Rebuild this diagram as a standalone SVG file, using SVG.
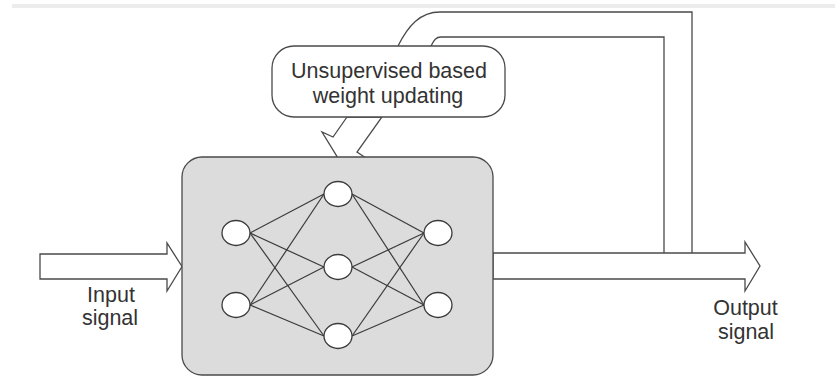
<svg xmlns="http://www.w3.org/2000/svg" width="835" height="377" viewBox="0 0 835 377">
  <style>
    .ln { fill: none; stroke: #4a4a4a; stroke-width: 1.3; }
    .shape { fill: #ffffff; stroke: #4a4a4a; stroke-width: 1.3; stroke-linejoin: miter; }
    .neuron { fill: #ffffff; stroke: #3a3a3a; stroke-width: 1.3; }
    .edge { stroke: #3a3a3a; stroke-width: 1.2; }
    .txt { font-family: "Liberation Sans", Arial, sans-serif; font-size: 21.5px; fill: #333333; text-anchor: middle; }
  </style>
  <rect x="12" y="4" width="823" height="4" fill="#ececec"/>

  <g id="feedback">
    <path class="ln" d="M692 253 V12 H440 C420 12 408 26 398 46"/>
    <path class="ln" d="M664 253 V37 H441 C436 37 434 40 431 46"/>
  </g>

  <g id="update-arrow">
    <polygon class="shape" points="347,117 333,137 322,132 338,158 366,158 357,152 382,117"/>
  </g>

  <g id="callout">
    <rect x="272" y="46" width="233" height="71" rx="22" ry="22" class="shape"/>
    <text class="txt" x="389" y="78">Unsupervised based</text>
    <text class="txt" x="388" y="103">weight updating</text>
  </g>

  <g id="input">
    <polygon class="shape" points="40,254 167,254 167,243 182,266.5 167,291 167,279 40,279"/>
    <text class="txt" x="111" y="302">Input</text>
    <text class="txt" x="110" y="325">signal</text>
  </g>

  <g id="output">
    <polygon class="shape" points="493,253 745,253 745,242 760,266 745,291 745,279 493,279"/>
    <text class="txt" x="745.5" y="315">Output</text>
    <text class="txt" x="746" y="339">signal</text>
  </g>

  <g id="network-box">
    <rect x="182" y="157" width="311" height="218" rx="20" ry="20" fill="#dcdcdc" stroke="#4a4a4a" stroke-width="1.3"/>
  </g>

  <g id="connectors">
    <line class="edge" x1="250" y1="233" x2="324" y2="194"/>
    <line class="edge" x1="250" y1="233" x2="324" y2="267"/>
    <line class="edge" x1="250" y1="233" x2="324" y2="336"/>
    <line class="edge" x1="250" y1="305" x2="324" y2="194"/>
    <line class="edge" x1="250" y1="305" x2="324" y2="267"/>
    <line class="edge" x1="250" y1="305" x2="324" y2="336"/>
    <line class="edge" x1="352" y1="194" x2="424" y2="233"/>
    <line class="edge" x1="352" y1="194" x2="424" y2="305"/>
    <line class="edge" x1="352" y1="267" x2="424" y2="233"/>
    <line class="edge" x1="352" y1="267" x2="424" y2="305"/>
    <line class="edge" x1="352" y1="336" x2="424" y2="233"/>
    <line class="edge" x1="352" y1="336" x2="424" y2="305"/>
  </g>

  <g id="in1"><ellipse class="neuron" cx="236" cy="233" rx="14" ry="12.5"/></g>
  <g id="in2"><ellipse class="neuron" cx="236" cy="305" rx="14" ry="12.5"/></g>
  <g id="h1"><ellipse class="neuron" cx="338" cy="194" rx="14" ry="12.5"/></g>
  <g id="h2"><ellipse class="neuron" cx="338" cy="267" rx="14" ry="12.5"/></g>
  <g id="h3"><ellipse class="neuron" cx="338" cy="336" rx="14" ry="12.5"/></g>
  <g id="out1"><ellipse class="neuron" cx="438" cy="233" rx="14" ry="12.5"/></g>
  <g id="out2"><ellipse class="neuron" cx="438" cy="305" rx="14" ry="12.5"/></g>
</svg>
